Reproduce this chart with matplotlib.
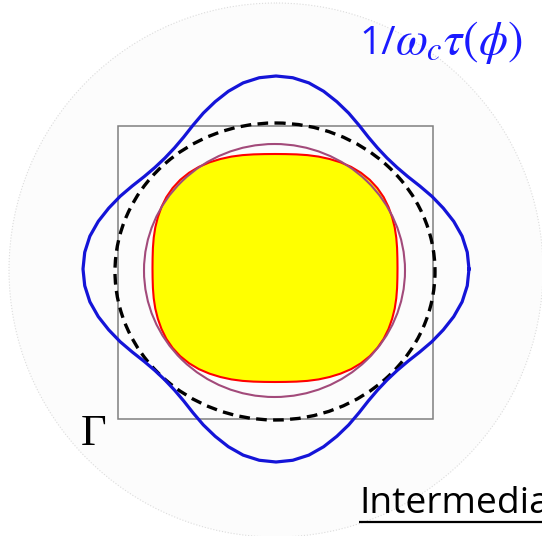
import numpy as np
import matplotlib.pyplot as plt
from matplotlib.patches import Circle, Ellipse, Rectangle, Polygon

plt.rcParams['mathtext.fontset'] = 'stix'

# polar profiles, sampled every 5 deg from 0 to 45 deg (4-fold symmetric)
ang_step = 5
blue_r = [193, 192, 189, 184, 178, 172, 166, 161, 158, 157]          # 1/(w_c tau(phi)), px
fs_r = [1.0, 1.003, 1.012, 1.025, 1.040, 1.055, 1.070, 1.083, 1.091, 1.094]  # rounded-square FS, normalised

blue_c = (276, 269)
fs_c, fs_ax = (275, 268), (122.5, 114)
circ_c, circ_ax = (274.5, 270.5), (130.5, 126.5)
dash_c, dash_ax = (275, 271.5), (160, 148.5)
box = (118, 125.5, 315, 293.5)


def full_turn(r_half):
    r_half = np.asarray(r_half, float)
    q = np.concatenate([r_half, r_half[-2::-1]])
    r = np.concatenate([q[:-1]] * 4 + [q[:1]])
    th = np.deg2rad(np.arange(len(r)) * ang_step)
    return th, r


fig = plt.figure(figsize=(5.42, 5.36), dpi=100)
ax = fig.add_axes([0, 0, 1, 1])
ax.set_xlim(0, 542)
ax.set_ylim(536, 0)
ax.axis('off')

# faint zone disc behind everything
ax.add_patch(Circle((276, 270), 267, fc='#fcfcfc', ec='#dcdcdc', lw=0.8, ls=':', zorder=0))

ax.add_patch(Rectangle(box[:2], box[2], box[3], fill=False, ec='#808080', lw=1.1, zorder=1))

th, r = full_turn(fs_r)
fs_xy = np.column_stack([fs_c[0] + fs_ax[0] * r * np.cos(th),
                         fs_c[1] - fs_ax[1] * r * np.sin(th)])
ax.add_patch(Polygon(fs_xy, closed=True, fc='#ffff00', ec='#ff0000', lw=1.5, zorder=2))

ax.add_patch(Ellipse(circ_c, 2 * circ_ax[0], 2 * circ_ax[1], fill=False,
                     ec='#a24a7a', lw=1.5, zorder=3))

ax.add_patch(Ellipse(dash_c, 2 * dash_ax[0], 2 * dash_ax[1], fill=False,
                     ec='black', lw=2.4, ls=(0, (3.2, 1.9)), zorder=4))

th, r = full_turn(blue_r)
ax.plot(blue_c[0] + r * np.cos(th), blue_c[1] - r * np.sin(th),
        color='#1414d8', lw=2.3, zorder=5, solid_joinstyle='round')

# labels: "1/" upright sans, the rest as italic math
ax.text(359, 54, '1/', family='Open Sans', fontsize=28, color='#1a1aff',
        ha='left', va='baseline', zorder=6)
ax.text(395, 54, r'$\omega_c\tau(\phi)$', color='#1a1aff', fontsize=33.5,
        ha='left', va='baseline', zorder=6)
ax.text(81, 445, '\u0393', family='Liberation Serif', fontsize=32, color='black',
        ha='left', va='baseline', zorder=6)
ax.text(359, 513, 'Intermediate', family='Open Sans', fontsize=26.8, color='black',
        ha='left', va='baseline', zorder=6)
ax.plot([359, 542], [522, 522], color='black', lw=1.6, zorder=6, solid_capstyle='butt')

fig.savefig('out.png', dpi=100)
